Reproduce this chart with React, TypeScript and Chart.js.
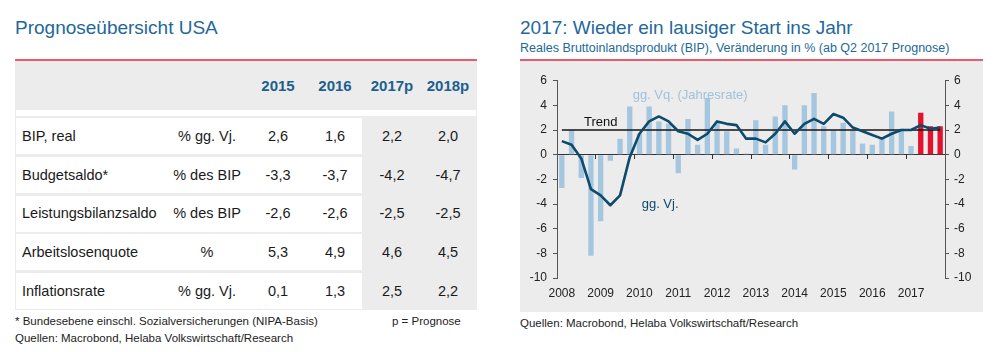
import React, { useEffect, useRef } from 'react';
import { Chart, registerables } from 'chart.js';

Chart.register(...registerables);

// ---------------- Table data ----------------
const tableTitle = 'Prognoseübersicht USA';
const tableYears = ['2015', '2016', '2017p', '2018p'];
const tableRows = ['BIP, real', 'Budgetsaldo*', 'Leistungsbilanzsaldo', 'Arbeitslosenquote', 'Inflationsrate'];
const tableUnits = ['% gg. Vj.', '% des BIP', '% des BIP', '%', '% gg. Vj.'];
const values2015 = [2.6, -3.3, -2.6, 5.3, 0.1];
const values2016 = [1.6, -3.7, -2.6, 4.9, 1.3];
const values2017p = [2.2, -4.2, -2.5, 4.6, 2.5];
const values2018p = [2.0, -4.7, -2.5, 4.5, 2.2];
const tableFootnote = '* Bundesebene einschl. Sozialversicherungen (NIPA-Basis)';
const tableLegend = 'p = Prognose';
const sourceText = 'Quellen: Macrobond, Helaba Volkswirtschaft/Research';

// ---------------- Chart data ----------------
const chartTitle = '2017: Wieder ein lausiger Start ins Jahr';
const chartSubtitle = 'Reales Bruttoinlandsprodukt (BIP), Veränderung in % (ab Q2 2017 Prognose)';
const quarters = [
  '2008 Q1', '2008 Q2', '2008 Q3', '2008 Q4',
  '2009 Q1', '2009 Q2', '2009 Q3', '2009 Q4',
  '2010 Q1', '2010 Q2', '2010 Q3', '2010 Q4',
  '2011 Q1', '2011 Q2', '2011 Q3', '2011 Q4',
  '2012 Q1', '2012 Q2', '2012 Q3', '2012 Q4',
  '2013 Q1', '2013 Q2', '2013 Q3', '2013 Q4',
  '2014 Q1', '2014 Q2', '2014 Q3', '2014 Q4',
  '2015 Q1', '2015 Q2', '2015 Q3', '2015 Q4',
  '2016 Q1', '2016 Q2', '2016 Q3', '2016 Q4',
  '2017 Q1', '2017 Q2', '2017 Q3', '2017 Q4',
];
// gg. Vq. (Jahresrate) – annualized q/q growth
const qoqAnnualized = [
  -2.7, 2.0, -1.9, -8.2,
  -5.4, -0.5, 1.3, 3.9,
  1.7, 3.9, 2.7, 2.5,
  -1.5, 2.9, 0.8, 4.6,
  2.6, 1.9, 0.5, 0.1,
  2.8, 0.8, 3.1, 4.0,
  -1.2, 4.0, 5.0, 2.3,
  2.0, 2.6, 2.0, 0.9,
  0.8, 1.4, 3.5, 2.1,
  0.7, 3.4, 2.3, 2.3,
];
// gg. Vj. – y/y growth
const yoy = [
  1.1, 0.8, -0.3, -2.8,
  -3.3, -4.1, -3.3, -0.2,
  1.7, 2.7, 3.1, 2.7,
  1.9, 1.7, 1.2, 1.7,
  2.7, 2.5, 2.4, 1.3,
  1.3, 1.0, 1.7, 2.7,
  1.7, 2.5, 2.9, 2.5,
  3.3, 3.0, 2.2, 1.9,
  1.6, 1.3, 1.7, 2.0,
  2.0, 2.4, 2.1, 2.2,
];
const trendLevel = 2;
const forecastFrom = '2017 Q2';
const yMin = -10;
const yMax = 6;
const yStep = 2;

const FONT = '"Liberation Sans", Arial, Helvetica, sans-serif';
const BLUE_TITLE = '#23689a';
const RED_LINE = '#ea5b6e';
const PANEL = '#ececec';
const LIGHT_BLUE = '#a5c6df';
const RED_BAR = '#e3122f';
const NAVY = '#0e4a6c';

const fmt = (v: number) => v.toFixed(1).replace('.', ',');

export default function App() {
  const canvasRef = useRef<HTMLCanvasElement>(null);

  useEffect(() => {
    const fcIdx = quarters.indexOf(forecastFrom);
    Chart.defaults.font.family = FONT;
    const chart = new Chart(canvasRef.current as HTMLCanvasElement, {
      type: 'bar',
      data: {
        labels: quarters,
        datasets: [
          {
            type: 'bar',
            label: 'gg. Vq. (Jahresrate)',
            data: qoqAnnualized,
            backgroundColor: (ctx: any) => (ctx.dataIndex >= fcIdx ? RED_BAR : LIGHT_BLUE),
            barPercentage: 0.55,
            categoryPercentage: 1,
            order: 3,
          },
          {
            type: 'line',
            label: 'Trend',
            data: [
              { x: quarters[0], y: trendLevel },
              { x: quarters[quarters.length - 1], y: trendLevel },
            ],
            borderColor: '#151515',
            borderWidth: 1.6,
            pointRadius: 0,
            order: 2,
          },
          {
            type: 'line',
            label: 'gg. Vj.',
            data: yoy,
            borderColor: NAVY,
            borderWidth: 2.6,
            borderJoinStyle: 'round',
            pointRadius: 0,
            tension: 0,
            order: 1,
          },
        ],
      } as any,
      options: {
        responsive: false,
        animation: false,
        layout: { padding: { top: 19.7, left: 0, right: 0, bottom: 0 } },
        plugins: { legend: { display: false }, tooltip: { enabled: false }, title: { display: false } },
        scales: {
          x: {
            type: 'category',
            offset: true,
            grid: { display: false, drawTicks: false },
            border: { display: false },
            ticks: {
              autoSkip: false,
              maxRotation: 0,
              minRotation: 0,
              padding: 8,
              color: '#222',
              font: { size: 12, family: FONT },
              callback: (_v: any, i: number) => (quarters[i].endsWith('Q1') ? quarters[i].slice(0, 4) : ''),
            },
            afterFit: (s: any) => {
              s.height = 34;
            },
          },
          xZero: {
            type: 'category',
            axis: 'x',
            position: { y: 0 },
            offset: true,
            grid: {
              offset: true,
              drawOnChartArea: false,
              drawTicks: true,
              tickLength: 4,
              lineWidth: 1,
              color: (c: any) => (c.index % 4 === 0 ? '#333' : 'rgba(0,0,0,0)'),
            },
            border: { display: true, color: '#333', width: 1 },
            ticks: { display: false },
          },
          y: {
            position: 'left',
            min: yMin,
            max: yMax,
            ticks: { stepSize: yStep, padding: 6, color: '#222', font: { size: 12, family: FONT } },
            grid: { drawOnChartArea: false, drawTicks: true, tickLength: 4, color: '#555' },
            border: { color: '#555', width: 1 },
            afterFit: (s: any) => {
              s.width = 37;
            },
          },
          y2: {
            position: 'right',
            min: yMin,
            max: yMax,
            ticks: { stepSize: yStep, padding: 5, color: '#222', font: { size: 12, family: FONT } },
            grid: { drawOnChartArea: false, drawTicks: true, tickLength: 4, color: '#555' },
            border: { color: '#555', width: 1 },
            afterFit: (s: any) => {
              s.width = 38;
            },
          },
        },
      } as any,
    });
    return () => chart.destroy();
  }, []);

  const colCenters = [207, 278, 335, 392, 448];
  const rowTop = (i: number) => 118 + i * 38.75;
  const valueCols = [values2015, values2016, values2017p, values2018p];

  const abs = (s: React.CSSProperties): React.CSSProperties => ({ position: 'absolute', ...s });

  return (
    <div
      style={{
        position: 'absolute',
        left: 0,
        top: 0,
        width: 1000,
        height: 352,
        background: '#fff',
        overflow: 'hidden',
        fontFamily: FONT,
      }}
    >
      {/* ---------- Left: table ---------- */}
      <div style={abs({ left: 15, top: 18.4, fontSize: 19, lineHeight: '19px', color: BLUE_TITLE, whiteSpace: 'nowrap' })}>
        {tableTitle}
      </div>
      <div style={abs({ left: 15, top: 59, width: 462, height: 2, background: RED_LINE })} />
      <div style={abs({ left: 15, top: 61, width: 462, height: 249, background: PANEL })} />
      <div style={abs({ left: 16, top: 110, width: 460, height: 6, background: '#fff' })} />
      {tableYears.map((y, j) => (
        <div
          key={y}
          style={abs({
            left: colCenters[j + 1] - 40,
            width: 80,
            top: 78,
            fontSize: 15,
            lineHeight: '15px',
            fontWeight: 'bold',
            textAlign: 'center',
            color: '#1d5f8e',
          })}
        >
          {y}
        </div>
      ))}
      {tableRows.map((r, i) => (
        <React.Fragment key={r}>
          <div style={abs({ left: 16, top: rowTop(i), width: 346, height: 36, background: '#fff' })} />
          <div
            style={abs({
              left: 22,
              top: rowTop(i),
              height: 36,
              display: 'flex',
              alignItems: 'center',
              fontSize: 14.5,
              lineHeight: '14.5px',
              color: '#1a1a1a',
              whiteSpace: 'nowrap',
            })}
          >
            {r}
          </div>
          {[tableUnits[i], ...valueCols.map((c) => fmt(c[i]))].map((t, j) => (
            <div
              key={j}
              style={abs({
                left: colCenters[j] - 50,
                width: 100,
                top: rowTop(i),
                height: 36,
                display: 'flex',
                alignItems: 'center',
                justifyContent: 'center',
                fontSize: 14.5,
                lineHeight: '14.5px',
                color: '#1a1a1a',
                whiteSpace: 'nowrap',
              })}
            >
              {t}
            </div>
          ))}
        </React.Fragment>
      ))}
      <div style={abs({ left: 15, top: 315.8, fontSize: 11.5, lineHeight: '11.5px', color: '#222', whiteSpace: 'nowrap' })}>
        {tableFootnote}
      </div>
      <div style={abs({ left: 392, top: 315.8, fontSize: 11.5, lineHeight: '11.5px', color: '#222', whiteSpace: 'nowrap' })}>
        {tableLegend}
      </div>
      <div style={abs({ left: 15, top: 333.3, fontSize: 11.5, lineHeight: '11.5px', color: '#222', whiteSpace: 'nowrap' })}>
        {sourceText}
      </div>

      {/* ---------- Right: chart ---------- */}
      <div style={abs({ left: 520, top: 18.4, fontSize: 19, lineHeight: '19px', color: BLUE_TITLE, whiteSpace: 'nowrap' })}>
        {chartTitle}
      </div>
      <div style={abs({ left: 520, top: 41.7, fontSize: 12.5, lineHeight: '12.5px', color: BLUE_TITLE, whiteSpace: 'nowrap' })}>
        {chartSubtitle}
      </div>
      <div style={abs({ left: 520, top: 59, width: 463, height: 2, background: RED_LINE })} />
      <canvas
        ref={canvasRef}
        width={463}
        height={251}
        style={abs({ left: 520, top: 61, width: 463, height: 251, background: PANEL })}
      />
      <div style={abs({ left: 584, top: 115.3, fontSize: 13, lineHeight: '13px', color: '#111', whiteSpace: 'nowrap' })}>
        Trend
      </div>
      <div style={abs({ left: 632.7, top: 88, fontSize: 13, lineHeight: '13px', color: '#9fc2dd', whiteSpace: 'nowrap' })}>
        gg. Vq. (Jahresrate)
      </div>
      <div style={abs({ left: 641.7, top: 196.6, fontSize: 13, lineHeight: '13px', color: NAVY, whiteSpace: 'nowrap' })}>
        gg. Vj.
      </div>
      <div style={abs({ left: 520, top: 318.3, fontSize: 11.5, lineHeight: '11.5px', color: '#222', whiteSpace: 'nowrap' })}>
        {sourceText}
      </div>
    </div>
  );
}
